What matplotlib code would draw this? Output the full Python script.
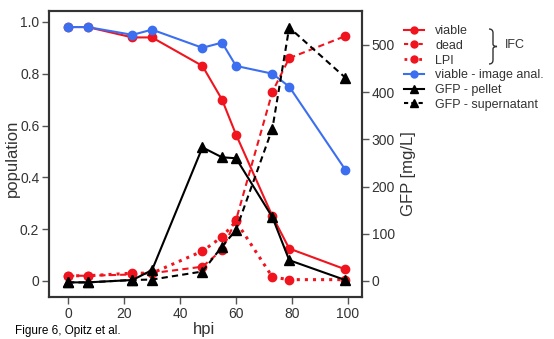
import matplotlib as mpl
import matplotlib.pyplot as plt
from matplotlib.lines import Line2D
from matplotlib.path import Path
from matplotlib.patches import PathPatch

mpl.use('Agg')
plt.rcParams['font.family'] = ['Liberation Sans', 'DejaVu Sans']

hpi = [0, 7, 23, 30, 48, 55, 60, 73, 79, 99]

viable = [0.98, 0.98, 0.94, 0.94, 0.83, 0.70, 0.565, 0.25, 0.125, 0.045]
dead = [0.02, 0.02, 0.025, 0.03, 0.055, 0.12, 0.235, 0.73, 0.86, 0.945]
lpi = [0.02, 0.02, 0.03, 0.03, 0.115, 0.17, 0.23, 0.015, 0.005, 0.005]
viable_img = [0.98, 0.98, 0.95, 0.97, 0.90, 0.92, 0.83, 0.80, 0.75, 0.43]

gfp_pellet = [-3, -3, 2, 23, 283, 262, 260, 135, 44, 2]
gfp_super = [-3, -3, 2, 3, 20, 73, 108, 323, 537, 431]

red = '#f0141e'
blue = '#3c6ef0'
txt = '#333333'

W, H = 554, 339
fig = plt.figure(figsize=(W / 100, H / 100), dpi=100)
ax = fig.add_axes([49 / W, 42 / H, 313 / W, 286 / H])
ax2 = ax.twinx()

ax.plot(hpi, viable, '-', color=red, marker='o', ms=6, lw=1.5)
ax.plot(hpi, dead, '--', color=red, marker='o', ms=6, lw=1.5, dashes=(3, 2))
ax.plot(hpi, lpi, ':', color=red, marker='o', ms=6, lw=2.2)
ax.plot(hpi, viable_img, '-', color=blue, marker='o', ms=6, lw=1.5)
ax2.plot(hpi, gfp_pellet, '-', color='black', marker='^', ms=7, lw=1.5)
ax2.plot(hpi, gfp_super, '--', color='black', marker='^', ms=7, lw=1.5, dashes=(3, 2))

ax.set_xlim(-6.8, 105)
ax.set_ylim(-0.062, 1.042)
ax2.set_ylim(-34, 572)
ax.set_xticks([0, 20, 40, 60, 80, 100])
ax.set_yticks([0, 0.2, 0.4, 0.6, 0.8, 1.0])
ax.set_yticklabels(['0', '0.2', '0.4', '0.6', '0.8', '1.0'])
ax2.set_yticks([0, 100, 200, 300, 400, 500])

for a in (ax, ax2):
    for s in a.spines.values():
        s.set_color('#333333')
        s.set_linewidth(1.5)
    a.tick_params(direction='out', length=5, width=1, colors='#555555',
                  labelcolor=txt, labelsize=10, pad=2)

ax.set_xlabel('hpi', fontsize=12, color=txt)
ax.xaxis.set_label_coords((204 - 49) / 313, (297 - 322) / 286)
ax.xaxis.label.set_va('top')
ax.set_ylabel('population', fontsize=12, color=txt)
ax.yaxis.set_label_coords((5 - 49) / 313, (297 - 158) / 286)
ax.yaxis.label.set_va('top')
ax2.set_ylabel('GFP [mg/L]', fontsize=12, color=txt)
ax2.yaxis.set_label_coords((401 - 49) / 313, (297 - 174) / 286)
ax2.yaxis.label.set_va('top')

handles = [
    Line2D([], [], color=red, ls='-', marker='o', ms=5, lw=1.5),
    Line2D([], [], color=red, ls='--', marker='o', ms=5, lw=1.5, dashes=(2, 1.5)),
    Line2D([], [], color=red, ls=':', marker='o', ms=5, lw=2),
    Line2D([], [], color=blue, ls='-', marker='o', ms=5, lw=1.5),
    Line2D([], [], color='black', ls='-', marker='^', ms=6, lw=1.5),
    Line2D([], [], color='black', ls='--', marker='^', ms=6, lw=1.5, dashes=(2, 1.5)),
]
labels = ['viable', 'dead', 'LPI', 'viable - image anal.',
          'GFP - pellet', 'GFP - supernatant']
leg = fig.legend(handles, labels, loc='upper left', bbox_to_anchor=(404 / W, 1 - 25 / H),
                 frameon=False, fontsize=9, handlelength=1.6, handletextpad=0.9,
                 labelspacing=0.22, borderaxespad=0, borderpad=0)
for t in leg.get_texts():
    t.set_color(txt)

# brace grouping the IFC entries
def px(x, y):
    return (x / W, 1 - y / H)

verts = [px(489, 29), px(493, 29), px(493, 33), px(493, 44), px(493, 46.5),
         px(497, 46.5), px(493, 46.5), px(493, 49), px(493, 60),
         px(493, 64), px(489, 64)]
codes = [Path.MOVETO, Path.CURVE3, Path.CURVE3, Path.LINETO, Path.CURVE3,
         Path.CURVE3, Path.CURVE3, Path.CURVE3, Path.LINETO, Path.CURVE3, Path.CURVE3]
fig.add_artist(PathPatch(Path(verts, codes), transform=fig.transFigure,
                         fill=False, edgecolor=txt, lw=1))
fig.text(505 / W, 1 - 45 / H, 'IFC', fontsize=9, color=txt, ha='left', va='center')

fig.text(15 / W, 1 - 334 / H, 'Figure 6, Opitz et al.', fontsize=8.5, color='black',
         ha='left', va='baseline')

fig.savefig('out.png', dpi=100)
